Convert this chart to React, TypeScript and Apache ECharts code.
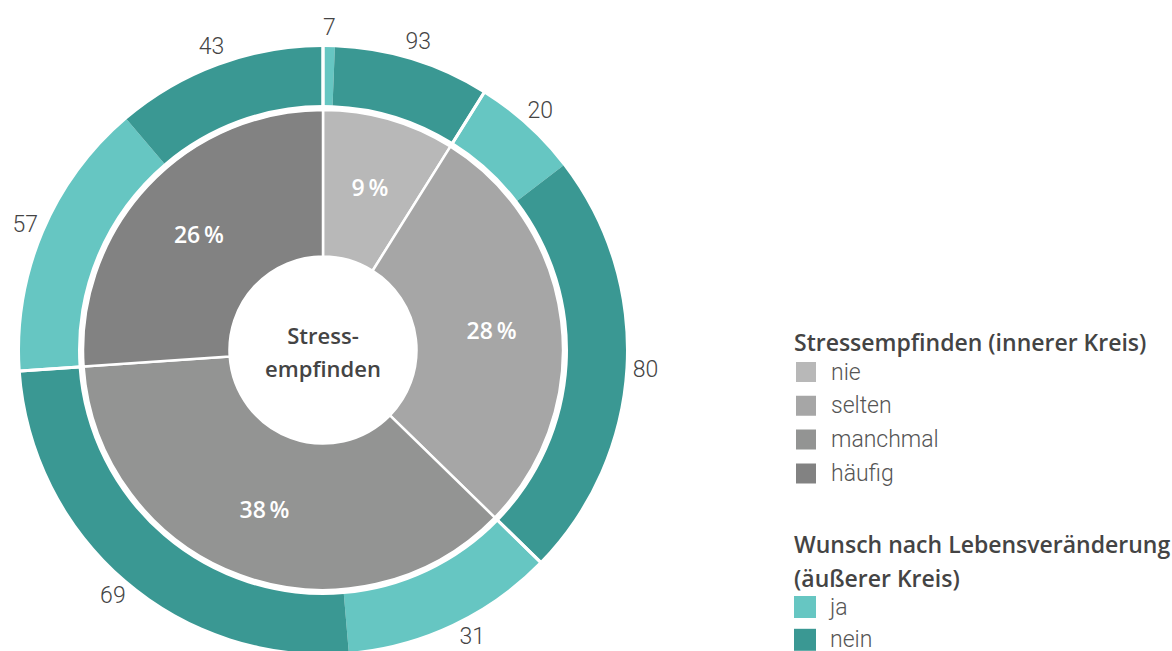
import React, { useEffect, useRef } from "react";
import * as echarts from "echarts";

// Inner ring: Stressempfinden
const innerNames = ["nie", "selten", "manchmal", "häufig"];
const innerPercentLabels = [9, 28, 38, 26]; // printed percentages
const innerShares = [8.9, 28.4, 36.6, 26.1]; // slice sizes as drawn
const innerColors = ["#b8b8b8", "#a6a6a6", "#939493", "#828282"];

// Outer ring: Wunsch nach Lebensveränderung (within each inner group)
const outerNames = ["ja", "nein"];
const jaShare = [7, 20, 31, 57];
const neinShare = [93, 80, 69, 43];
const outerColors = ["#66c6c2", "#3a9893"];

const FONT = "Roboto";
const BOLD_FONT = "Open Sans";

export default function App() {
  const ref = useRef<HTMLDivElement>(null);

  useEffect(() => {
    if (!ref.current) return;
    const chart = echarts.init(ref.current, undefined, { renderer: "svg" });

    const outerData: any[] = [];
    const outerShareLabels: number[] = [];
    innerShares.forEach((s, i) => {
      outerData.push({
        name: outerNames[0],
        value: (s * jaShare[i]) / 100,
        itemStyle: { color: outerColors[0] },
      });
      outerShareLabels.push(jaShare[i]);
      outerData.push({
        name: outerNames[1],
        value: (s * neinShare[i]) / 100,
        itemStyle: { color: outerColors[1] },
      });
      outerShareLabels.push(neinShare[i]);
    });

    const center = [323, 350];
    const chartHeight = chart.getHeight();

    const legendText = {
      fontFamily: FONT,
      fontSize: 23,
      fontWeight: 300,
      color: "#555",
      lineHeight: 22,
      padding: [0, 0, 0, 9],
    };

    chart.setOption({
      animation: false,
      textStyle: { fontFamily: FONT },
      legend: [
        {
          data: innerNames,
          orient: "vertical",
          left: 789,
          top: 355,
          height: 200,
          icon: "rect",
          itemWidth: 22,
          itemHeight: 22,
          itemGap: 9.8,
          selectedMode: false,
          textStyle: legendText,
        },
        {
          data: outerNames,
          orient: "vertical",
          left: 789,
          top: 590.5,
          height: 200,
          icon: "rect",
          itemWidth: 22,
          itemHeight: 22,
          itemGap: 9.8,
          selectedMode: false,
          textStyle: legendText,
        },
      ],
      graphic: [
        {
          type: "text",
          x: center[0],
          y: 351,
          silent: true,
          style: {
            text: "Stress-\nempfinden",
            align: "center",
            verticalAlign: "middle",
            fontFamily: BOLD_FONT,
            fontSize: 22,
            fontWeight: 600,
            lineHeight: 33,
            fill: "#444",
          },
        },
        {
          type: "text",
          x: 794,
          y: 342,
          silent: true,
          style: {
            text: "Stressempfinden (innerer Kreis)",
            verticalAlign: "middle",
            fontFamily: BOLD_FONT,
            fontSize: 23,
            fontWeight: 600,
            fill: "#444",
          },
        },
        {
          type: "text",
          x: 794,
          y: 561,
          silent: true,
          style: {
            text: "Wunsch nach Lebensveränderung\n(äußerer Kreis)",
            verticalAlign: "middle",
            fontFamily: BOLD_FONT,
            fontSize: 23,
            fontWeight: 600,
            lineHeight: 34,
            fill: "#444",
          },
        },
      ],
      series: [
        {
          name: "Stressempfinden",
          type: "pie",
          center,
          radius: [93.5, 240],
          startAngle: 90,
          silent: true,
          emphasis: { disabled: true },
          data: innerNames.map((n, i) => ({
            name: n,
            value: innerShares[i],
            itemStyle: { color: innerColors[i] },
          })),
          itemStyle: { borderColor: "#fff", borderWidth: 2.5 },
          label: {
            show: true,
            position: "inside",
            formatter: (p: any) => innerPercentLabels[p.dataIndex] + "\u2009%",
            color: "#fff",
            fontFamily: BOLD_FONT,
            fontSize: 23,
            fontWeight: 600,
          },
          labelLine: { show: false },
        },
        {
          name: "Wunsch",
          type: "pie",
          center,
          radius: [245, 303],
          startAngle: 90,
          silent: true,
          emphasis: { disabled: true },
          data: outerData,
          itemStyle: { borderWidth: 0 },
          label: { show: false },
          labelLine: { show: false },
        },
        {
          name: "Trenner",
          type: "pie",
          center,
          radius: [241, 307],
          startAngle: 90,
          silent: true,
          emphasis: { disabled: true },
          data: innerShares.map((v) => ({ value: v })),
          itemStyle: {
            color: "rgba(0,0,0,0)",
            borderColor: "#fff",
            borderWidth: 3,
          },
          label: { show: false },
          labelLine: { show: false },
        },
        {
          name: "Beschriftung",
          type: "pie",
          center,
          radius: [309, 331],
          startAngle: 90,
          silent: true,
          emphasis: { disabled: true },
          data: outerData.map((d) => ({ value: d.value })),
          itemStyle: { color: "rgba(0,0,0,0)", borderWidth: 0 },
          label: {
            show: true,
            position: "inside",
            formatter: (p: any) => String(outerShareLabels[p.dataIndex]),
            color: "#444",
            fontFamily: FONT,
            fontSize: 23,
            fontWeight: 300,
          },
          labelLine: { show: false },
          // keep labels inside the canvas: slide along the circle if needed
          labelLayout: (params: any) => {
            const r = params.labelRect;
            const lx = r.x + r.width / 2;
            const ly = r.y + r.height / 2;
            const dx = lx - center[0];
            const dy = ly - center[1];
            const R = Math.hypot(dx, dy);
            const maxY = chartHeight - 3 - r.height / 2;
            if (ly <= maxY) return {};
            const ndy = maxY - center[1];
            const ndx = Math.sign(dx || 1) * Math.sqrt(Math.max(R * R - ndy * ndy, 0));
            return { x: center[0] + ndx, y: center[1] + ndy };
          },
        },
      ],
    });

    return () => chart.dispose();
  }, []);

  return (
    <div
      ref={ref}
      style={{ position: "absolute", left: 0, top: 0, width: 1172, height: 651 }}
    />
  );
}
